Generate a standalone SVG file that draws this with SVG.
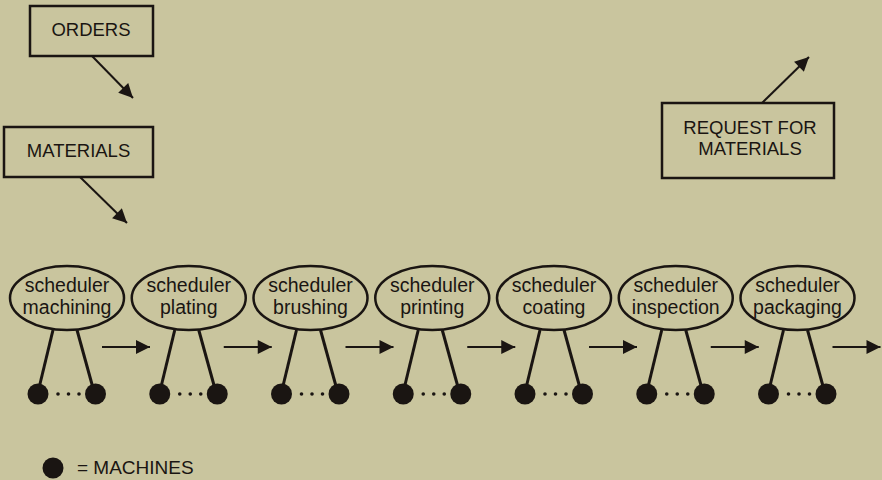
<svg xmlns="http://www.w3.org/2000/svg" width="882" height="480" viewBox="0 0 882 480">
<style>
text{font-family:"Liberation Sans",Arial,sans-serif;fill:#1a1512}
.box{fill:none;stroke:#1a1512;stroke-width:2.5}
.ell{fill:none;stroke:#1a1512;stroke-width:2.5}
.lbl{font-size:18.5px;text-anchor:middle}
.sch{font-size:19.5px;text-anchor:middle}
.con{stroke:#1a1512;stroke-width:2;fill:none}
.leg{stroke:#1a1512;stroke-width:3;fill:none}
.m{fill:#1a1512}
.d{fill:#1a1512}
</style>
<defs>
<marker id="ah" viewBox="0 0 10 10" refX="10" refY="5" markerWidth="8.5" markerHeight="7" markerUnits="strokeWidth" orient="auto">
<path d="M0,0 L10,5 L0,10 z" fill="#1a1512"/>
</marker>
<g id="unit">
<line class="leg" x1="-14" y1="330" x2="-28" y2="388"/>
<line class="leg" x1="10" y1="330" x2="26" y2="388"/>
<circle class="m" cx="-29" cy="394" r="10.5"/>
<circle class="m" cx="28.5" cy="394" r="10.5"/>
<circle class="d" cx="-9" cy="394" r="1.8"/>
<circle class="d" cx="1.5" cy="394" r="1.8"/>
<circle class="d" cx="12" cy="394" r="1.8"/>
<ellipse class="ell" cx="0" cy="298" rx="57" ry="32"/>
</g>
</defs>
<rect width="882" height="480" fill="#c9c59e"/>

<g id="orders">
<rect class="box" x="30" y="6" width="123" height="50"/>
<text class="lbl" x="91" y="36">ORDERS</text>
</g>
<g id="materials">
<rect class="box" x="4" y="127" width="149" height="50"/>
<text class="lbl" x="78.5" y="157">MATERIALS</text>
</g>
<g id="request">
<rect class="box" x="662" y="103" width="172" height="75"/>
<text class="lbl" x="750" y="134">REQUEST FOR</text>
<text class="lbl" x="750" y="155">MATERIALS</text>
</g>

<g id="s-machining"><use href="#unit" x="67"/><text class="sch" x="67" y="292">scheduler</text><text class="sch" x="67" y="314">machining</text></g>
<g id="s-plating"><use href="#unit" x="188.75"/><text class="sch" x="188.75" y="292">scheduler</text><text class="sch" x="188.75" y="314">plating</text></g>
<g id="s-brushing"><use href="#unit" x="310.5"/><text class="sch" x="310.5" y="292">scheduler</text><text class="sch" x="310.5" y="314">brushing</text></g>
<g id="s-printing"><use href="#unit" x="432.25"/><text class="sch" x="432.25" y="292">scheduler</text><text class="sch" x="432.25" y="314">printing</text></g>
<g id="s-coating"><use href="#unit" x="554"/><text class="sch" x="554" y="292">scheduler</text><text class="sch" x="554" y="314">coating</text></g>
<g id="s-inspection"><use href="#unit" x="675.75"/><text class="sch" x="675.75" y="292">scheduler</text><text class="sch" x="675.75" y="314">inspection</text></g>
<g id="s-packaging"><use href="#unit" x="797.5"/><text class="sch" x="797.5" y="292">scheduler</text><text class="sch" x="797.5" y="314">packaging</text></g>

<g id="connectors">
<line class="con" x1="92" y1="56" x2="133" y2="98" marker-end="url(#ah)"/>
<line class="con" x1="80" y1="177" x2="127" y2="223" marker-end="url(#ah)"/>
<line class="con" x1="762" y1="103" x2="809" y2="57" marker-end="url(#ah)"/>
<line class="con" x1="102" y1="347" x2="150" y2="347" marker-end="url(#ah)"/>
<line class="con" x1="223.75" y1="347" x2="271.75" y2="347" marker-end="url(#ah)"/>
<line class="con" x1="345.5" y1="347" x2="393.5" y2="347" marker-end="url(#ah)"/>
<line class="con" x1="467.25" y1="347" x2="515.25" y2="347" marker-end="url(#ah)"/>
<line class="con" x1="589" y1="347" x2="637" y2="347" marker-end="url(#ah)"/>
<line class="con" x1="710.75" y1="347" x2="758.75" y2="347" marker-end="url(#ah)"/>
<line class="con" x1="832.5" y1="347" x2="880.5" y2="347" marker-end="url(#ah)"/>
</g>

<g id="legend">
<circle class="m" cx="53" cy="468" r="10.5"/>
<text x="77" y="474" font-size="19">= MACHINES</text>
</g>
</svg>
